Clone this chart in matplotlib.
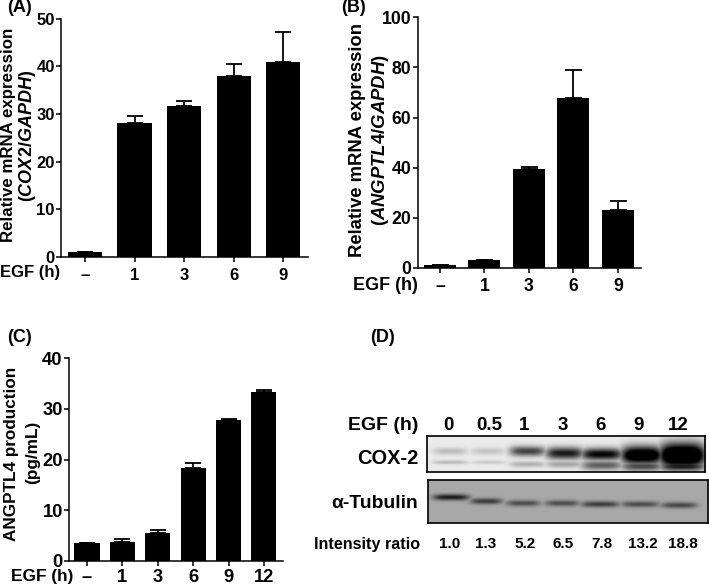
import numpy as np
import matplotlib
matplotlib.use('Agg')
import matplotlib.pyplot as plt

plt.rcParams['font.family'] = ['Liberation Sans', 'DejaVu Sans']
plt.rcParams['font.weight'] = 'bold'
plt.rcParams['mathtext.fontset'] = 'custom'
plt.rcParams['mathtext.it'] = 'Liberation Sans:italic:bold'
plt.rcParams['mathtext.rm'] = 'Liberation Sans:bold'

W, H = 709, 587

# panel A
labels_a = ['–', '1', '3', '6', '9']
values_a = [1, 28.2, 31.6, 37.9, 41]
tops_a = [1, 29.6, 32.8, 40.6, 47.3]
yticks_a = [0, 10, 20, 30, 40, 50]

# panel B
labels_b = ['–', '1', '3', '6', '9']
values_b = [1, 3, 39.5, 68, 23.3]
tops_b = [1.1, 3.2, 40.2, 78.8, 26.8]
yticks_b = [0, 20, 40, 60, 80, 100]

# panel C
labels_c = ['–', '1', '3', '6', '9', '12']
values_c = [3.5, 3.6, 5.5, 18.3, 27.8, 33.4]
tops_c = [3.5, 4.2, 6.1, 19.4, 28, 33.7]
yticks_c = [0, 10, 20, 30, 40]

# panel D, band strength per lane read by eye
egf_d = ['0', '0.5', '1', '3', '6', '9', '12']
ratio_d = ['1.0', '1.3', '5.2', '6.5', '7.8', '13.2', '18.8']
cox_upper = [0.2, 0.17, 0.72, 0.9, 1.0, 1.3, 1.5]
cox_lower = [0.22, 0.14, 0.25, 0.3, 0.6, 0.7, 0.9]
tubulin = [0.85, 0.65, 0.55, 0.55, 0.65, 0.55, 0.58]

fig = plt.figure(figsize=(W / 100, H / 100), dpi=100)


def px_axes(x0, x1, ytop, ybot):
    return fig.add_axes([x0 / W, 1 - ybot / H, (x1 - x0) / W, (ybot - ytop) / H])


def px_text(x, y, s, **kw):
    kw.setdefault('ha', 'center')
    kw.setdefault('va', 'center')
    kw.setdefault('fontsize', 11)
    return fig.text(x / W, 1 - y / H, s, **kw)


def bar_panel(box, labels, values, tops, yticks, xlim, width, fs, xpad):
    ax = px_axes(*box)
    x = np.arange(len(values))
    errs = np.array(tops) - np.array(values)
    ax.bar(x, values, width=width, color='black', linewidth=0)
    ax.errorbar(x, values, yerr=[np.zeros(len(x)), errs], fmt='none', ecolor='black',
                elinewidth=1.3, capsize=width * 8.5, capthick=1.3)
    ax.set_xlim(*xlim)
    ax.set_ylim(yticks[0], yticks[-1])
    ax.set_xticks(x)
    ax.set_xticklabels(labels)
    ax.set_yticks(yticks)
    ax.spines['top'].set_visible(False)
    ax.spines['right'].set_visible(False)
    ax.spines['left'].set_linewidth(1.1)
    ax.spines['bottom'].set_linewidth(1.1)
    ax.tick_params(axis='both', width=1.1, length=3.5, labelsize=fs, pad=1)
    ax.tick_params(axis='x', pad=xpad)
    return ax


bar_panel((61, 308, 18.7, 257), labels_a, values_a, tops_a, yticks_a, (-0.485, 4.5), 0.69, 12, 4.5)
bar_panel((417.7, 641, 17.3, 268), labels_b, values_b, tops_b, yticks_b, (-0.5, 4.52), 0.72, 12.7, 4)
bar_panel((69, 283, 358.3, 560.7), labels_c, values_c, tops_c, yticks_c, (-0.51, 5.54), 0.71, 13.2, 2.5)

# axis titles and panel letters
px_text(9, 135, 'Relative mRNA expression', rotation=90, fontsize=12.2)
px_text(27, 136, r'($\mathit{COX2/GAPDH}$)', rotation=90, fontsize=13)
px_text(357, 140, 'Relative mRNA expression', rotation=90, fontsize=13.3)
px_text(380, 140, r'($\mathit{ANGPTL4/GAPDH}$)', rotation=90, fontsize=13.3)
px_text(12, 454, 'ANGPTL4 production', rotation=90, fontsize=12.3)
px_text(33, 452, '(pg/mL)', rotation=90, fontsize=12.4)

px_text(30, 273, 'EGF (h)', fontsize=12)
px_text(385, 286, 'EGF (h)', fontsize=13)
px_text(42, 577, 'EGF (h)', fontsize=12.4)

px_text(19, 7, '(A)', fontsize=13)
px_text(354, 7, '(B)', fontsize=13)
px_text(19, 338, '(C)', fontsize=13)
px_text(382, 338, '(D)', fontsize=13)


# blots are rebuilt from the band strengths above
def blot(box, lanes, half_widths, rows, background):
    x0, x1, ytop, ybot = box
    ax = px_axes(x0, x1, ytop, ybot)
    xx, yy = np.meshgrid(np.arange(x0, x1, 0.5), np.arange(ytop, ybot, 0.5))
    dark = np.zeros_like(xx)
    for centre, hw, bands in zip(lanes, half_widths, rows):
        across = np.exp(-((xx - centre) / hw) ** 4)
        for y_c, sigma, strength in bands:
            dark = np.maximum(dark, strength * across * np.exp(-((yy - y_c) / sigma) ** 2))
    img = background * (1 - np.clip(dark, 0, 1))
    ax.imshow(img, cmap='gray', vmin=0, vmax=1, aspect='auto', interpolation='bilinear',
              extent=(x0, x1, ybot, ytop))
    ax.set_xticks([])
    ax.set_yticks([])
    for s in ax.spines.values():
        s.set_linewidth(1.2)
    return ax


lanes_cox = [450, 488, 527, 564, 601, 641, 681]
hw_cox = [17, 17, 18, 19, 21, 21, 23]
sig_up = [3.5, 3.5, 5, 6, 6, 9, 12]
sig_lo = [2, 2, 3, 3.5, 5, 5, 5]
y_up = [451, 451, 451, 453, 454, 455, 455]
y_lo = [462, 462, 464, 464, 465, 466, 466]
rows_cox = [[(u, su, a), (l, sl, b)] for u, su, a, l, sl, b in
            zip(y_up, sig_up, cox_upper, y_lo, sig_lo, cox_lower)]
blot((427, 705, 436, 472), lanes_cox, hw_cox, rows_cox, 0.92)

lanes_tub = [451, 486, 523, 562, 600, 640, 679]
hw_tub = [18, 16, 17, 17, 19, 19, 18]
y_tub = [497, 501, 503, 503, 504, 504, 505]
rows_tub = [[(y, 3, s)] for y, s in zip(y_tub, tubulin)]
blot((428, 708, 480, 523), lanes_tub, hw_tub, rows_tub, 0.66)

px_text(418, 425, 'EGF (h)', fontsize=14, ha='right')
px_text(418, 458, 'COX-2', fontsize=14.4, ha='right')
px_text(418, 503, 'α-Tubulin', fontsize=13.9, ha='right')
px_text(420, 544, 'Intensity ratio', fontsize=11.6, ha='right')

for x, s in zip([448, 489, 524, 563, 601, 639, 678], egf_d):
    px_text(x, 425, s, fontsize=13.5)
for x, s in zip([450, 486, 525, 563, 602, 643, 683], ratio_d):
    px_text(x, 544, s, fontsize=11)

fig.savefig('out.png', dpi=100)
